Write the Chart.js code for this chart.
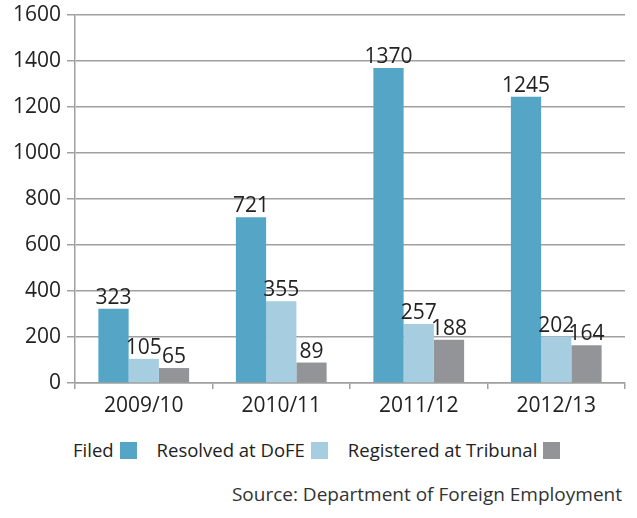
<!DOCTYPE html>
<html>
<head>
<meta charset="utf-8">
<script src="https://cdn.jsdelivr.net/npm/chart.js@4/dist/chart.umd.min.js"></script>
<style>
  body { margin: 0; background: #fff; font-family: "Open Sans", Lato, sans-serif; color: #222; }
  #wrap { position: relative; width: 637px; height: 518px; }
  #box { position: absolute; left: 0; top: 0; width: 637px; height: 430px; }
  #legend { position: absolute; left: 73px; top: 437px; font-size: 18.5px; white-space: nowrap; }
  #legend span.item { margin-right: 20px; }
  #legend i { display: inline-block; width: 17px; height: 17px; margin-left: 6px; vertical-align: -2px; }
  #source { position: absolute; right: 15px; top: 481px; font-size: 19px; color: #333; }
</style>
</head>
<body>
<div id="wrap">
  <div id="box"><canvas id="casesChart"></canvas></div>
  <div id="legend"></div>
  <div id="source">Source: Department of Foreign Employment</div>
</div>
<script>
var years = ['2009/10', '2010/11', '2011/12', '2012/13'];
var filed = [323, 721, 1370, 1245];
var resolved = [105, 355, 257, 202];
var registered = [65, 89, 188, 164];
var yTicks = [0, 200, 400, 600, 800, 1000, 1200, 1400, 1600];

var seriesNames = ['Filed', 'Resolved at DoFE', 'Registered at Tribunal'];
var seriesColors = ['#55a5c6', '#a6cde0', '#929497'];

var fontFamily = '"Open Sans", Lato, sans-serif';

// numbers above each bar
var valueLabels = {
  id: 'valueLabels',
  afterDatasetsDraw: function (chart) {
    var ctx = chart.ctx;
    ctx.save();
    ctx.font = '21px ' + fontFamily;
    ctx.fillStyle = '#222';
    ctx.textAlign = 'center';
    ctx.textBaseline = 'alphabetic';
    chart.data.datasets.forEach(function (ds, i) {
      chart.getDatasetMeta(i).data.forEach(function (bar, j) {
        ctx.fillText(ds.data[j], bar.x, bar.y - 5);
      });
    });
    ctx.restore();
  }
};

var ctx = document.getElementById('casesChart').getContext('2d');
var chart = new Chart(ctx, {
  type: 'bar',
  data: {
    labels: years,
    datasets: [
      { label: seriesNames[0], data: filed, backgroundColor: seriesColors[0] },
      { label: seriesNames[1], data: resolved, backgroundColor: seriesColors[1] },
      { label: seriesNames[2], data: registered, backgroundColor: seriesColors[2] }
    ]
  },
  options: {
    responsive: true,
    maintainAspectRatio: false,
    animation: false,
    layout: { padding: { top: 15, right: 12, bottom: 7, left: 0 } },
    datasets: { bar: { categoryPercentage: 0.66, barPercentage: 1 } },
    plugins: {
      legend: { display: false },
      tooltip: { enabled: false }
    },
    scales: {
      x: {
        afterFit: function (s) { s.height = 40; },
        grid: { drawOnChartArea: false, tickLength: 6, color: '#a0a0a0', lineWidth: 1.5 },
        border: { color: '#a0a0a0', width: 1.5 },
        ticks: { padding: 4, color: '#222', font: { family: fontFamily, size: 21 } }
      },
      y: {
        min: 0,
        max: 1600,
        afterFit: function (s) { s.width = 75; s.paddingTop = 0; s.paddingBottom = 0; },
        afterBuildTicks: function (s) { s.ticks = yTicks.map(function (v) { return { value: v }; }); },
        grid: { color: '#a0a0a0', lineWidth: 1.5, tickLength: 8 },
        border: { color: '#a0a0a0', width: 1.5 },
        ticks: {
          padding: 6,
          color: '#222',
          font: { family: fontFamily, size: 21, lineHeight: 1 },
          callback: function (v) { return String(v); }
        }
      }
    }
  },
  plugins: [valueLabels]
});

// legend: name first, then colour box
var legend = document.getElementById('legend');
chart.data.datasets.forEach(function (ds) {
  var item = document.createElement('span');
  item.className = 'item';
  item.appendChild(document.createTextNode(ds.label));
  var sw = document.createElement('i');
  sw.style.background = ds.backgroundColor;
  item.appendChild(sw);
  legend.appendChild(item);
});
</script>
</body>
</html>
